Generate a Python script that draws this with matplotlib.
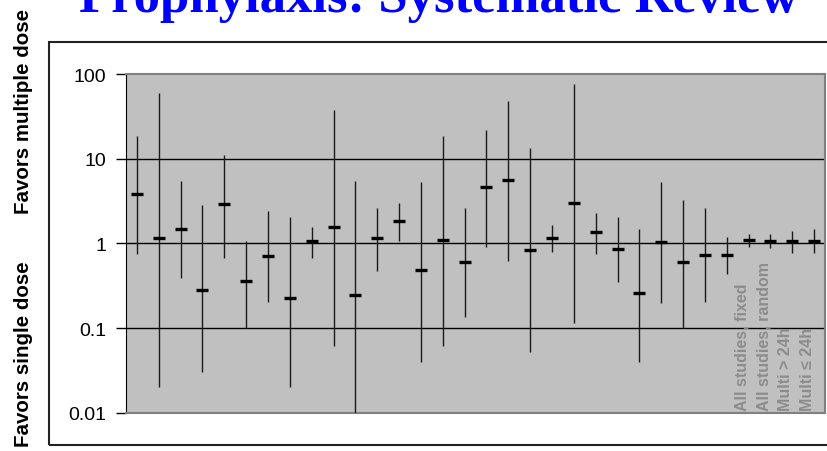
import matplotlib.pyplot as plt
from matplotlib.patches import Rectangle

# odds ratios (point estimate, upper and lower CI)
est = [3.86, 1.16, 1.49, 0.28, 2.91, 0.36, 0.70, 0.229, 1.06, 1.55,
       0.248, 1.16, 1.83, 0.484, 1.11, 0.597, 4.58, 5.65, 0.827, 1.16,
       3.02, 1.36, 0.865, 0.257, 1.03, 0.597, 0.735, 0.735,
       1.105, 1.065, 1.065, 1.065]
upper = [18.7, 59.5, 5.5, 2.86, 11.2, 1.08, 2.41, 2.03, 1.57, 37.9,
         5.5, 2.64, 2.97, 5.35, 18.5, 2.64, 21.8, 48.4, 13.2, 1.64,
         76.8, 2.30, 2.03, 1.46, 5.35, 3.25, 2.64, 1.18,
         1.30, 1.30, 1.40, 1.46]
lower = [0.74, 0.02, 0.39, 0.03, 0.68, 0.10, 0.205, 0.02, 0.68, 0.061,
         0.01, 0.476, 1.08, 0.040, 0.061, 0.134, 0.91, 0.625, 0.052, 0.80,
         0.114, 0.74, 0.353, 0.040, 0.196, 0.10, 0.205, 0.43,
         0.91, 0.873, 0.776, 0.776]
pooled_labels = ["All studies, fixed", "All studies, random",
                 "Multi > 24h", "Multi \u2264 24h"]
yticks = [0.01, 0.1, 1, 10, 100]
yticklabels = ["0.01", "0.1", "1", "10", "100"]

plt.rcParams['font.family'] = ['Liberation Sans', 'DejaVu Sans']

fig = plt.figure(figsize=(8.27, 4.52), dpi=100)
ax = fig.add_axes([0.1524, 0.0847, 0.8452, 0.7493])
ax.set_facecolor('#c0c0c0')

x = list(range(1, len(est) + 1))
ax.vlines(x, lower, upper, color='#1a1a1a', lw=1.0, zorder=3)
ax.plot(x, est, ls='none', marker='_', ms=8.5, mew=2.4, color='black', zorder=4)

ax.set_yscale('log')
ax.set_ylim(0.01, 100)
ax.set_xlim(0.5, len(est) + 0.5)
ax.set_yticks(yticks)
ax.set_yticklabels(yticklabels)
ax.minorticks_off()
ax.set_xticks([])
ax.tick_params(axis='y', length=7, width=1, pad=7, labelsize=14, colors='black')
for v in [0.1, 1, 10]:
    ax.axhline(v, color='black', lw=1.0, zorder=2)

ax.spines['left'].set_color('black')
for s in ['top', 'right', 'bottom']:
    ax.spines[s].set_color('#808080')
    ax.spines[s].set_linewidth(1.5)

# rotated labels of the pooled estimates
for i, lab in enumerate(pooled_labels):
    xi = len(est) - len(pooled_labels) + 1 + i
    ax.text(xi + 0.05, 0.0107, lab, rotation=90, ha='right', va='bottom',
            fontsize=11.5, fontweight='bold', color='#8c8c8c', zorder=5)

fig.text(0.531, 1 - 12 / 452, "Prophylaxis: Systematic Review", ha='center',
         va='baseline', fontsize=38, fontweight='bold', color='#0000ff',
         family=['Liberation Serif', 'DejaVu Serif'])

fig.text(0.029, 1 - 112 / 452, "Favors multiple dose", rotation=90,
         ha='center', va='center', fontsize=14.8, fontweight='bold')
fig.text(0.029, 1 - 354 / 452, "Favors single dose", rotation=90,
         ha='center', va='center', fontsize=14.8, fontweight='bold')

# outer frame around the chart
fig.patches.append(Rectangle((49 / 827, 1 - 446 / 452), 1.0, (446 - 43) / 452,
                             transform=fig.transFigure, fill=False,
                             ec='#222222', lw=1.5, clip_on=False))

fig.savefig('out.png', dpi=100)
